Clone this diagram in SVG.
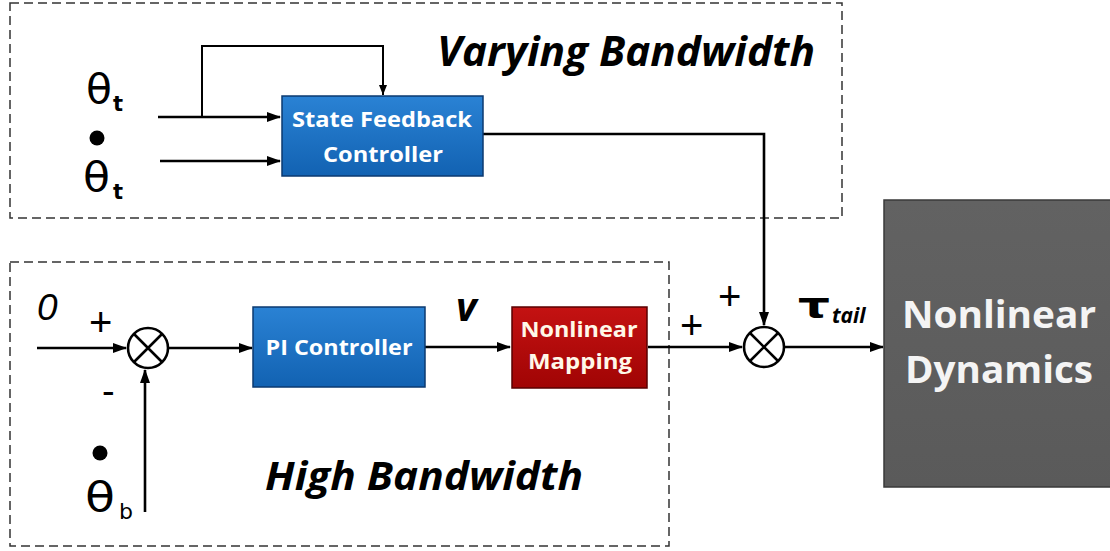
<svg xmlns="http://www.w3.org/2000/svg" width="1110" height="551" viewBox="0 0 1110 551">
<style>
.dash{fill:none;stroke:#333;stroke-width:1.5;stroke-dasharray:9,5}
.ln{fill:none;stroke:#000;stroke-width:2.6}
.thin{fill:none;stroke:#000;stroke-width:2}
.lbl{font-family:"Open Sans","Liberation Sans",sans-serif;font-weight:bold;fill:#fff;text-anchor:middle}
.big{font-family:"Open Sans","Liberation Sans",sans-serif;font-weight:bold;font-style:italic;fill:#000}
.sym{font-family:"DejaVu Sans","Liberation Sans",sans-serif;fill:#000}
.sgn{font-family:"Liberation Sans",sans-serif;fill:#000}
.zero{font-family:"Liberation Sans",sans-serif;font-style:italic;fill:#000}
</style>
<defs>
<linearGradient id="gBlue" x1="0" y1="0" x2="0" y2="1"><stop offset="0" stop-color="#2a82d4"/><stop offset="1" stop-color="#1262b2"/></linearGradient>
<linearGradient id="gRed" x1="0" y1="0" x2="0" y2="1"><stop offset="0" stop-color="#c41212"/><stop offset="1" stop-color="#a00404"/></linearGradient>
<linearGradient id="gGray" x1="0" y1="0" x2="0" y2="1"><stop offset="0" stop-color="#626262"/><stop offset="1" stop-color="#5a5a5a"/></linearGradient>
<marker id="ah" viewBox="0 0 14 10" refX="13" refY="5" markerWidth="14" markerHeight="10" markerUnits="userSpaceOnUse" orient="auto"><path d="M0,0 L14,5 L0,10 Z" fill="#000"/></marker>
<marker id="ahm" viewBox="0 0 10 8" refX="10" refY="4" markerWidth="10" markerHeight="8" markerUnits="userSpaceOnUse" orient="auto"><path d="M0,0 L10,4 L0,8 Z" fill="#000"/></marker>
</defs>

<g id="region-varying">
<rect class="dash" x="10" y="3" width="832" height="215"/>
<text class="big" x="437" y="66" font-size="41" textLength="378" lengthAdjust="spacingAndGlyphs">Varying Bandwidth</text>
</g>
<g id="region-high">
<rect class="dash" x="10" y="262" width="659" height="284"/>
<text class="big" x="265" y="490" font-size="40" textLength="318" lengthAdjust="spacingAndGlyphs">High Bandwidth</text>
</g>

<g id="connectors">
<path class="ln" d="M158,117 H280" marker-end="url(#ah)"/>
<path class="ln" d="M160,161 H280" marker-end="url(#ah)"/>
<path class="thin" d="M202,117 V46 H383 V95" marker-end="url(#ahm)"/>
<path class="ln" d="M483,134 H764 V325" marker-end="url(#ah)"/>
<path class="ln" d="M37,348 H126" marker-end="url(#ah)"/>
<path class="ln" d="M145,512 V370" marker-end="url(#ah)"/>
<path class="ln" d="M169,348 H252" marker-end="url(#ah)"/>
<path class="ln" d="M425,347 H510" marker-end="url(#ah)"/>
<path class="ln" d="M648,347 H742" marker-end="url(#ah)"/>
<path class="ln" d="M785,347 H883" marker-end="url(#ah)"/>
</g>

<g id="sum1">
<circle cx="148" cy="348" r="20" fill="#fff" stroke="#000" stroke-width="2.6"/>
<path class="ln" d="M134,334 L162,362 M162,334 L134,362"/>
</g>
<g id="sum2">
<circle cx="764" cy="347" r="20" fill="#fff" stroke="#000" stroke-width="2.6"/>
<path class="ln" d="M750,333 L778,361 M778,333 L750,361"/>
</g>

<g id="state-feedback">
<rect x="282" y="96" width="201" height="80" fill="url(#gBlue)" stroke="#0b3a70" stroke-width="1.5"/>
<text class="lbl" x="382" y="127" font-size="22" textLength="180" lengthAdjust="spacingAndGlyphs">State Feedback</text>
<text class="lbl" x="383" y="162" font-size="22" textLength="120" lengthAdjust="spacingAndGlyphs">Controller</text>
</g>
<g id="pi-controller">
<rect x="253" y="307" width="172" height="80" fill="url(#gBlue)" stroke="#0b3a70" stroke-width="1.5"/>
<text class="lbl" x="339" y="355" font-size="22" textLength="147" lengthAdjust="spacingAndGlyphs">PI Controller</text>
</g>
<g id="nonlinear-mapping">
<rect x="512" y="307" width="135" height="81" fill="url(#gRed)" stroke="#5a0000" stroke-width="1.5"/>
<text class="lbl" x="579" y="337" font-size="22" textLength="117" lengthAdjust="spacingAndGlyphs" style="fill:#fff8e8">Nonlinear</text>
<text class="lbl" x="580" y="369" font-size="22" textLength="104" lengthAdjust="spacingAndGlyphs" style="fill:#fff8e8">Mapping</text>
</g>
<g id="nonlinear-dynamics">
<rect x="884" y="200" width="230" height="287" fill="url(#gGray)" stroke="#3a3a3a" stroke-width="1.5"/>
<text class="lbl" x="999" y="328" font-size="37" textLength="194" lengthAdjust="spacingAndGlyphs" style="fill:#f4f4f4">Nonlinear</text>
<text class="lbl" x="999" y="383" font-size="37" textLength="188" lengthAdjust="spacingAndGlyphs" style="fill:#f4f4f4">Dynamics</text>
</g>

<g id="labels">
<text class="sym" x="86" y="103" font-size="40" textLength="26" lengthAdjust="spacingAndGlyphs">θ</text>
<text class="sym" x="113" y="111" font-size="21" style="font-weight:bold">t</text>
<circle cx="97" cy="138" r="7.5" fill="#000"/>
<text class="sym" x="83" y="191" font-size="40" textLength="27" lengthAdjust="spacingAndGlyphs">θ</text>
<text class="sym" x="113" y="199" font-size="21" style="font-weight:bold">t</text>
<text class="zero" x="37" y="320" font-size="37">0</text>
<text class="sgn" x="89" y="336" font-size="40">+</text>
<text class="sgn" x="102" y="404" font-size="38">-</text>
<circle cx="100" cy="453" r="7.5" fill="#000"/>
<text class="sym" x="85" y="511" font-size="40" textLength="30" lengthAdjust="spacingAndGlyphs">θ</text>
<text class="sym" x="119" y="519" font-size="22">b</text>
<text class="big" x="456" y="321" font-size="40">v</text>
<text class="sgn" x="680" y="339" font-size="40">+</text>
<text class="sgn" x="718" y="310" font-size="40">+</text>
<text class="sym" x="798" y="318" font-size="36" textLength="32" lengthAdjust="spacingAndGlyphs" style="font-weight:bold">τ</text>
<text class="big" x="832" y="323" font-size="21">tail</text>
</g>
</svg>
